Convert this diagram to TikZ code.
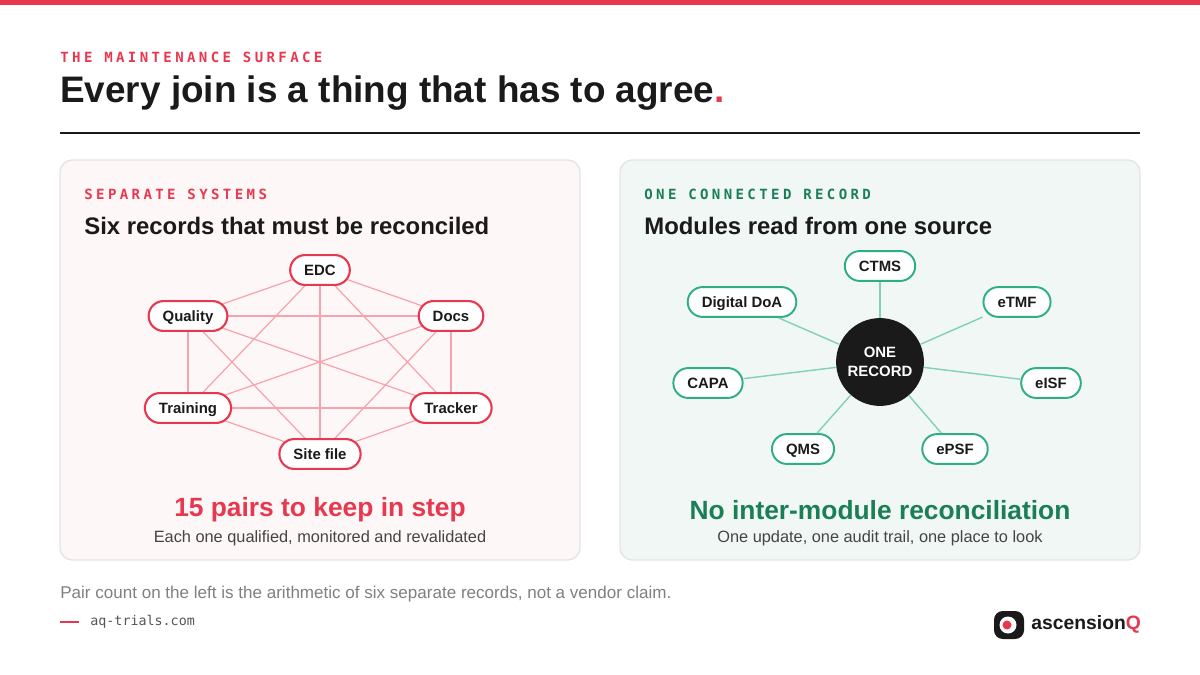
\documentclass[tikz,border=0pt]{standalone}
\usepackage{fontspec}
\setmainfont{Liberation Sans}
\newfontfamily\monof{DejaVu Sans Mono}
\definecolor{red1}{HTML}{E8384F}
\definecolor{ink}{HTML}{1A1A1A}
\definecolor{grn}{HTML}{1A7F55}
\definecolor{grnb}{HTML}{2FAF7F}
\definecolor{grnl}{HTML}{7FD3B0}
\definecolor{redl}{HTML}{F7A3AE}
\definecolor{gry}{HTML}{555555}
\begin{document}
\begin{tikzpicture}[x=0.02cm,y=-0.02cm,
  kicker/.style={anchor=west,inner sep=0,font=\monof\bfseries\fontsize{8}{9}\selectfont\addfontfeature{LetterSpace=24}},
  panel/.style={rounded corners=7pt,draw=black!10,line width=0.8pt},
  rn/.style={draw=red1,line width=1.2pt,fill=white,rounded corners=8.5pt,minimum height=17pt,inner xsep=8pt,text height=6.3pt,text depth=0.3pt,font=\bfseries\fontsize{8.5}{10}\selectfont,text=ink},
  gn/.style={draw=grnb,line width=1.1pt,fill=white,rounded corners=8.5pt,minimum height=17pt,inner xsep=8pt,text height=6.3pt,text depth=0.3pt,font=\bfseries\fontsize{8.5}{10}\selectfont,text=ink},
  re/.style={draw=redl,line width=0.7pt},
  ge/.style={draw=grnl,line width=0.8pt}]
\useasboundingbox (0,0) rectangle (1200,675);
\fill[white] (0,0) rectangle (1200,675);
\fill[red1] (0,0) rectangle (1200,5);
\node[kicker,text=red1] (k0) at (60,57) {THE MAINTENANCE SURFACE};
\node[anchor=west,inner sep=0,font=\bfseries\fontsize{21}{25}\selectfont,text=ink] (title) at (60,93) {Every join is a thing that has to agree\textcolor{red1}{.}};
\draw[ink,line width=1.1pt] (60,133) -- (1140,133);
% panels
\draw[panel,fill=red1!4] (60,160) rectangle (580,560);
\draw[panel,fill=grn!6] (620,160) rectangle (1140,560);
% left
\node[kicker,text=red1] (k1) at (84,194) {SEPARATE SYSTEMS};
\node[anchor=west,inner sep=0,font=\bfseries\fontsize{13.6}{16}\selectfont,text=ink] (h1) at (84,226) {Six records that must be reconciled};
\coordinate (cE) at (320,270); \coordinate (cQ) at (188,316); \coordinate (cD) at (451,316);
\coordinate (cT) at (188,408); \coordinate (cK) at (451,408); \coordinate (cS) at (320,454);
\foreach \a/\b in {cE/cQ,cE/cD,cE/cT,cE/cK,cE/cS,cQ/cD,cQ/cT,cQ/cK,cQ/cS,cD/cT,cD/cK,cD/cS,cT/cK,cT/cS,cK/cS}
  \draw[re] (\a) -- (\b);
\node[rn] (edc) at (cE) {EDC};
\node[rn] (qual) at (cQ) {Quality};
\node[rn] (docs) at (cD) {Docs};
\node[rn] (train) at (cT) {Training};
\node[rn] (track) at (cK) {Tracker};
\node[rn] (site) at (cS) {Site file};
\node[font=\bfseries\fontsize{15}{18}\selectfont,text=red1] (p1) at (320,510) {15 pairs to keep in step};
\node[font=\fontsize{9.3}{11}\selectfont,text=gry!80!black] (s1) at (320,538) {Each one qualified, monitored and revalidated};
% right
\node[kicker,text=grn] (k2) at (644,194) {ONE CONNECTED RECORD};
\node[anchor=west,inner sep=0,font=\bfseries\fontsize{13.6}{16}\selectfont,text=ink] (h2) at (644,226) {Modules read from one source};
\node[circle,fill=ink,minimum size=50pt,inner sep=0,align=center,text=white,font=\bfseries\fontsize{8.5}{11}\selectfont] (one) at (880,362) {ONE\\RECORD};
\node[gn] (ctms) at (880,266) {CTMS};
\node[gn] (doa) at (742,302) {Digital DoA};
\node[gn] (etmf) at (1017,302) {eTMF};
\node[gn] (capa) at (708,383) {CAPA};
\node[gn] (eisf) at (1051,383) {eISF};
\node[gn] (qms) at (803,449) {QMS};
\node[gn] (epsf) at (955,449) {ePSF};
\foreach \m in {ctms,doa,etmf,capa,eisf,qms,epsf}
  \draw[ge] (one) -- (\m);
\node[font=\bfseries\fontsize{15}{18}\selectfont,text=grn] (p2) at (880,510) {No inter-module reconciliation};
\node[font=\fontsize{9.3}{11}\selectfont,text=gry!80!black] (s2) at (880,538) {One update, one audit trail, one place to look};
% footer
\node[anchor=west,inner sep=0,font=\fontsize{9.7}{11}\selectfont,text=gray] (fn) at (60,594) {Pair count on the left is the arithmetic of six separate records, not a vendor claim.};
\coordinate (d0) at (60,622); \coordinate (d1) at (79,622);
\draw[red1,line width=1.1pt] (d0) -- (d1);
\node[anchor=west,inner sep=0,font=\monof\fontsize{7.6}{9}\selectfont,text=gry] (url) at (90,622) {aq-trials.com};
% logo
\fill[ink,rounded corners=5pt] (994,611) rectangle (1024,639);
\fill[white] (1008,625) circle (8.5);
\fill[red1] (1007,625) circle (4.5);
\node[anchor=west,inner sep=0,font=\bfseries\fontsize{11}{13}\selectfont,text=ink] (brand) at (1031,624) {ascension\textcolor{red1}{Q}};
\end{tikzpicture}
\end{document}
